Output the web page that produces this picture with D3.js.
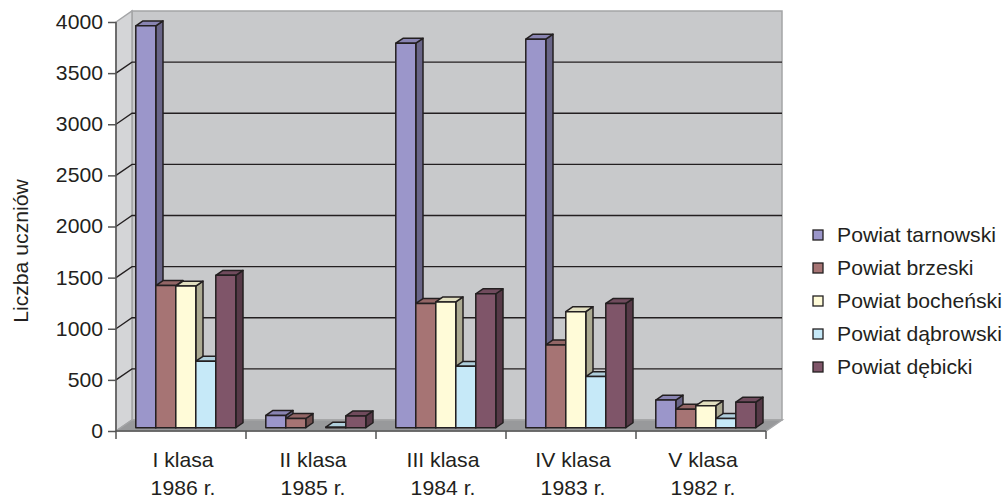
<!DOCTYPE html>
<html>
<head>
<meta charset="utf-8">
<script src="https://cdn.jsdelivr.net/npm/d3@7"></script>
<style>
    body { margin: 0; background: #fff; }
    svg { display: block; font-family: "Liberation Sans", Arial, sans-serif; }
</style>
</head>
<body>
<svg width="1004" height="498"></svg>
<script>
(function () {
    'use strict';

    const categories = ['I klasa', 'II klasa', 'III klasa', 'IV klasa', 'V klasa'];
    const years = ['1986 r.', '1985 r.', '1984 r.', '1983 r.', '1982 r.'];
    const series = ['Powiat tarnowski', 'Powiat brzeski', 'Powiat bocheński', 'Powiat dąbrowski', 'Powiat dębicki'];

    // one array per powiat, values per klasa
    const tarnowski = [3930, 120, 3760, 3800, 270];
    const brzeski = [1390, 90, 1215, 810, 180];
    const bochenski = [1385, null, 1230, 1135, 215];
    const dabrowski = [650, 5, 600, 500, 90];
    const debicki = [1490, 115, 1310, 1215, 250];
    const values = [tarnowski, brzeski, bochenski, dabrowski, debicki];

    const yTicks = [0, 500, 1000, 1500, 2000, 2500, 3000, 3500, 4000];

    const colors = ['#9b96ca', '#a67474', '#fffbd8', '#c6e9f8', '#7f5569'];

    const left = 116, right = 766, top = 22, bottom = 431;
    const depth = { dx: 16, dy: -11 };
    const barZ = [0.3, 0.75];
    const fontSize = 20, stretch = 1.06;

    const x = d3.scaleBand()
        .domain(categories)
        .range([left, right]);

    const xs = d3.scaleBand()
        .domain(series)
        .range([0, x.bandwidth()])
        .paddingInner(0)
        .paddingOuter(0.75);

    const y = d3.scaleLinear()
        .domain([0, 4000])
        .range([bottom, top]);

    const proj = (px, py, z) => [px + z * depth.dx, py + z * depth.dy];
    const pts = arr => arr.map(p => p.join(',')).join(' ');

    const svg = d3.select('svg');

    // walls and floor
    const walls = svg.append('g').classed('walls', true);
    const wall = (p, fill) => walls.append('polygon')
        .attr('points', pts(p))
        .attr('fill', fill)
        .attr('stroke', '#a4a5a7')
        .attr('stroke-width', 1.5);

    wall([proj(left, y(4000), 1), proj(right, y(4000), 1), proj(right, y(0), 1), proj(left, y(0), 1)], '#c8c9cb');
    wall([proj(left, y(4000), 0), proj(left, y(4000), 1), proj(left, y(0), 1), proj(left, y(0), 0)], '#d4d5d7');
    wall([proj(left, y(0), 0), proj(right, y(0), 0), proj(right, y(0), 1), proj(left, y(0), 1)], '#98999b');

    // grid lines: diagonal on the side wall, horizontal on the back wall
    const grid = svg.append('g').classed('grid', true);
    yTicks.filter(t => t > 0 && t < 4000).forEach(t => {
        grid.append('polyline')
            .attr('points', pts([proj(left, y(t), 0), proj(left, y(t), 1), proj(right, y(t), 1)]))
            .attr('fill', 'none')
            .attr('stroke', '#231f20')
            .attr('stroke-width', 1.3);
    });

    // bars
    const bars = svg.append('g').classed('bars', true);
    const poly = (p, fill) => bars.append('polygon')
        .attr('points', pts(p))
        .attr('fill', fill)
        .attr('stroke', '#231f20')
        .attr('stroke-width', 1.5)
        .attr('stroke-linejoin', 'round');

    categories.forEach((cat, ci) => {
        series.forEach((s, si) => {
            const v = values[si][ci];
            if (v == null) return;
            const x0 = x(cat) + xs(s), x1 = x0 + xs.bandwidth();
            const yv = y(v), y0 = y(0);
            const c = d3.color(colors[si]);
            poly([proj(x1, yv, barZ[0]), proj(x1, yv, barZ[1]), proj(x1, y0, barZ[1]), proj(x1, y0, barZ[0])], c.darker(1.1).formatHex());
            poly([proj(x0, yv, barZ[0]), proj(x1, yv, barZ[0]), proj(x1, yv, barZ[1]), proj(x0, yv, barZ[1])], c.darker(0.35).formatHex());
            poly([proj(x0, yv, barZ[0]), proj(x1, yv, barZ[0]), proj(x1, y0, barZ[0]), proj(x0, y0, barZ[0])], colors[si]);
        });
    });

    // y axis
    const yAxis = svg.append('g')
        .attr('transform', `translate(${left},0)`)
        .call(d3.axisLeft(y).tickValues(yTicks).tickFormat(d3.format('d')).tickSize(8).tickPadding(5));
    yAxis.select('.domain').attr('stroke', '#555').attr('stroke-width', 1.5).attr('d', `M0,${top}V${bottom}`);
    yAxis.selectAll('.tick line').attr('stroke', '#555').attr('stroke-width', 1.5);
    yAxis.selectAll('.tick text')
        .attr('x', 0)
        .attr('transform', `translate(-13,0) scale(${stretch},1)`)
        .attr('font-size', fontSize)
        .attr('font-family', '"Liberation Sans", Arial, sans-serif')
        .attr('fill', '#231f20');

    // x axis
    const bounds = categories.map(c => x(c)).concat([right]);
    const xAxis = svg.append('g').classed('x-axis', true);
    xAxis.append('line')
        .attr('x1', left).attr('x2', right)
        .attr('y1', bottom).attr('y2', bottom)
        .attr('stroke', '#555').attr('stroke-width', 1.5);
    xAxis.selectAll('line.tick').data(bounds).join('line')
        .classed('tick', true)
        .attr('x1', d => d).attr('x2', d => d)
        .attr('y1', bottom).attr('y2', bottom + 8)
        .attr('stroke', '#555').attr('stroke-width', 1.5);
    const labels = xAxis.selectAll('text').data(categories).join('text')
        .attr('transform', d => `translate(${x(d) + x.bandwidth() / 2 + 2},0) scale(${stretch},1)`)
        .attr('text-anchor', 'middle')
        .attr('font-size', fontSize)
        .attr('fill', '#231f20');
    labels.append('tspan').attr('x', 0).attr('y', 467).text(d => d);
    labels.append('tspan').attr('x', 0).attr('y', 495).text((d, i) => years[i]);

    // y axis title
    svg.append('text')
        .attr('transform', `translate(28,251) rotate(-90) scale(${stretch},1)`)
        .attr('text-anchor', 'middle')
        .attr('font-size', fontSize)
        .attr('fill', '#231f20')
        .text('Liczba uczniów');

    // legend
    const legend = svg.append('g').attr('transform', 'translate(813,235)');
    const item = legend.selectAll('g').data(series).join('g')
        .attr('transform', (d, i) => `translate(0,${i * 33})`);
    item.append('rect')
        .attr('x', 0).attr('y', -5)
        .attr('width', 10).attr('height', 10)
        .attr('fill', (d, i) => colors[i])
        .attr('stroke', '#231f20')
        .attr('stroke-width', 1.3);
    item.append('text')
        .attr('transform', `translate(24,7) scale(${stretch},1)`)
        .attr('font-size', fontSize)
        .attr('fill', '#231f20')
        .text(d => d);
})();
</script>
</body>
</html>
